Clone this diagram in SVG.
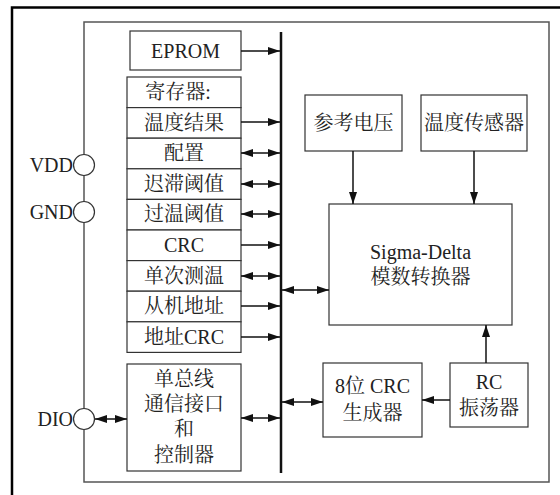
<svg xmlns="http://www.w3.org/2000/svg" width="560" height="495" viewBox="0 0 560 495">
<defs>
<style>
.box{fill:#fff;stroke:#333;stroke-width:1.2}
.t{font-family:"Liberation Serif","Noto Serif CJK SC","Noto Sans CJK SC",serif;font-size:20px;fill:#222;text-anchor:middle}
.tl{font-family:"Liberation Serif","Noto Serif CJK SC","Noto Sans CJK SC",serif;font-size:20px;fill:#222;text-anchor:end}
.ln{stroke:#111;stroke-width:1.5;fill:none}
</style>
<marker id="ah" viewBox="0 0 12 8" refX="12" refY="4" markerWidth="12" markerHeight="8" markerUnits="userSpaceOnUse" orient="auto-start-reverse">
<path d="M0,0 L12,4 L0,8 Z" fill="#111"/>
</marker>
</defs>
<rect x="0" y="0" width="560" height="495" fill="#fff"/>
<rect id="frame" x="12" y="7.5" width="560" height="500" fill="none" stroke="#000" stroke-width="2.5"/>
<path id="chip" d="M84,22 H549 V482 H84 Z" fill="none" stroke="#555" stroke-width="1.5"/>
<line id="bus" x1="281" y1="32" x2="281" y2="473" stroke="#111" stroke-width="2.5"/>

<g id="pin-vdd"><circle cx="84" cy="165" r="10.5" fill="#fff" stroke="#333" stroke-width="1.2"/><text class="tl" x="73" y="172">VDD</text></g>
<g id="pin-gnd"><circle cx="84" cy="212" r="10.5" fill="#fff" stroke="#333" stroke-width="1.2"/><text class="tl" x="73" y="219">GND</text></g>
<g id="pin-dio"><circle cx="84" cy="419" r="10.5" fill="#fff" stroke="#333" stroke-width="1.2"/><text class="tl" x="73" y="426">DIO</text></g>

<g id="eprom"><rect class="box" x="130" y="31" width="111" height="39"/><text class="t" x="185.5" y="57.5">EPROM</text></g>
<g id="registers">
<rect class="box" x="127" y="77" width="114" height="30.6"/><text class="t" x="178" y="99">寄存器:</text>
</g>
<g id="reg-temp"><rect class="box" x="127" y="107.6" width="114" height="30.6"/><text class="t" x="184" y="129.5">温度结果</text></g>
<g id="reg-config"><rect class="box" x="127" y="138.2" width="114" height="30.6"/><text class="t" x="184" y="160">配置</text></g>
<g id="reg-hyst"><rect class="box" x="127" y="168.8" width="114" height="30.6"/><text class="t" x="184" y="190.5">迟滞阈值</text></g>
<g id="reg-ot"><rect class="box" x="127" y="199.4" width="114" height="30.6"/><text class="t" x="184" y="221">过温阈值</text></g>
<g id="reg-crc"><rect class="box" x="127" y="230" width="114" height="30.6"/><text class="t" x="184" y="252">CRC</text></g>
<g id="reg-oneshot"><rect class="box" x="127" y="260.6" width="114" height="30.6"/><text class="t" x="184" y="282.5">单次测温</text></g>
<g id="reg-addr"><rect class="box" x="127" y="291.2" width="114" height="30.6"/><text class="t" x="184" y="313">从机地址</text></g>
<g id="reg-addrcrc"><rect class="box" x="127" y="321.8" width="114" height="30.6"/><text class="t" x="184" y="343.5">地址CRC</text></g>

<g id="onewire"><rect class="box" x="127" y="364" width="114" height="107"/>
<text class="t" x="184" y="386">单总线</text><text class="t" x="184" y="411">通信接口</text><text class="t" x="184" y="436">和</text><text class="t" x="184" y="462">控制器</text></g>

<g id="vref"><rect class="box" x="305" y="95" width="97" height="56"/><text class="t" x="353.5" y="130">参考电压</text></g>
<g id="tsensor"><rect class="box" x="421" y="95" width="106" height="56"/><text class="t" x="474" y="130">温度传感器</text></g>
<g id="adc"><rect class="box" x="329" y="204" width="183" height="121"/><text class="t" x="420.5" y="259">Sigma-Delta</text><text class="t" x="420.5" y="284">模数转换器</text></g>
<g id="crcgen"><rect class="box" x="323" y="363" width="99" height="74"/><text class="t" x="372.5" y="393">8位 CRC</text><text class="t" x="372.5" y="420">生成器</text></g>
<g id="rcosc"><rect class="box" x="450" y="363" width="78" height="64"/><text class="t" x="489" y="389">RC</text><text class="t" x="489" y="415">振荡器</text></g>

<g id="connectors">
<line class="ln" x1="241" y1="51" x2="280" y2="51" marker-end="url(#ah)"/>
<line class="ln" x1="241" y1="122" x2="280" y2="122" marker-end="url(#ah)"/>
<line class="ln" x1="241" y1="153" x2="280" y2="153" marker-start="url(#ah)" marker-end="url(#ah)"/>
<line class="ln" x1="241" y1="184" x2="280" y2="184" marker-start="url(#ah)" marker-end="url(#ah)"/>
<line class="ln" x1="241" y1="214" x2="280" y2="214" marker-start="url(#ah)" marker-end="url(#ah)"/>
<line class="ln" x1="241" y1="245" x2="280" y2="245" marker-end="url(#ah)"/>
<line class="ln" x1="241" y1="276" x2="280" y2="276" marker-start="url(#ah)" marker-end="url(#ah)"/>
<line class="ln" x1="241" y1="306" x2="280" y2="306" marker-end="url(#ah)"/>
<line class="ln" x1="241" y1="337" x2="280" y2="337" marker-end="url(#ah)"/>
<line class="ln" x1="241" y1="418" x2="280" y2="418" marker-start="url(#ah)" marker-end="url(#ah)"/>
<line class="ln" x1="95" y1="419" x2="127" y2="419" marker-start="url(#ah)" marker-end="url(#ah)"/>
<line class="ln" x1="282" y1="290" x2="329" y2="290" marker-start="url(#ah)" marker-end="url(#ah)"/>
<line class="ln" x1="282" y1="402" x2="323" y2="402" marker-start="url(#ah)" marker-end="url(#ah)"/>
<line class="ln" x1="353" y1="151" x2="353" y2="204" marker-end="url(#ah)"/>
<line class="ln" x1="474" y1="151" x2="474" y2="204" marker-end="url(#ah)"/>
<line class="ln" x1="486" y1="363" x2="486" y2="325" marker-end="url(#ah)"/>
<line class="ln" x1="450" y1="400" x2="422" y2="400" marker-end="url(#ah)"/>
</g>
</svg>
